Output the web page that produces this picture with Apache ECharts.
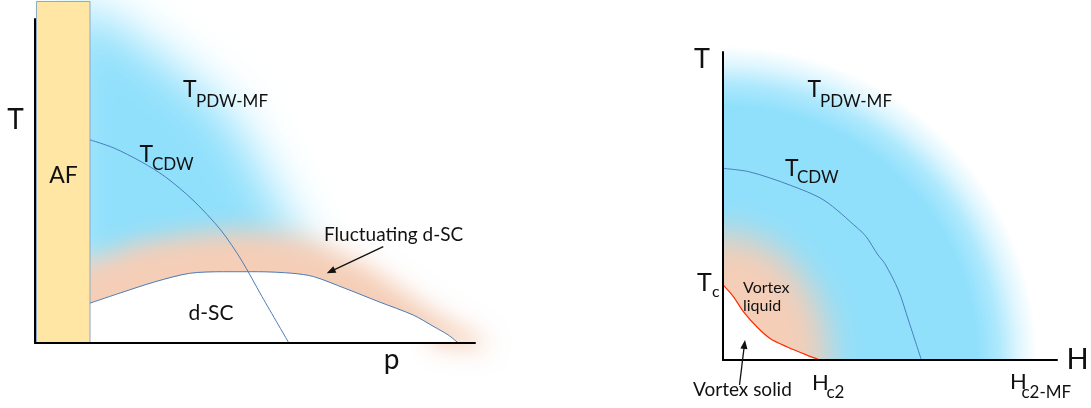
<!DOCTYPE html>
<html>
<head>
<meta charset="utf-8">
<script src="https://cdn.jsdelivr.net/npm/echarts@6/dist/echarts.min.js"></script>
<style>
  html, body { margin: 0; padding: 0; background: #fff; }
  #chart { width: 1091px; height: 408px; }
</style>
</head>
<body>
<div id="chart"></div>
<script>
// ---------- Left panel: T versus doping p (axes run 0..100) ----------
const afX = [0.34, 12.5];            // antiferromagnetic band, p range
const afT = [0, 105.4];              // and T range
const cdwDopingX = [12.5, 17.9, 24.2, 29.6, 35.9, 42.2, 46.9, 51.6, 57.7];
const cdwDopingT = [62.7, 60.2, 55.9, 51.3, 44.1, 34.9, 25.6, 14.3, 0];
const scDomeX = [12.5, 19.5, 27.3, 35.1, 42.9, 50.8, 58.6, 63.3, 70.4, 78.2, 86.0, 90.7, 93.9, 96.2];
const scDomeT = [12.3, 15.5, 18.9, 21.5, 22.0, 22.0, 21.5, 20.5, 16.9, 12.7, 8.6, 5.0, 2.5, 0];
// soft-edged PDW mean-field region (outline at half intensity)
const pdwDopingX = [5.7, 13.6, 21.6, 31.8, 40.9, 46.6, 50.7, 55.2, 58.4, 60.9, 58.0, 5.7];
const pdwDopingT = [104.3, 102.8, 95.7, 85.2, 75.0, 65.7, 54.9, 44.1, 34.9, 27.2, 17.9, 17.9];
// fluctuating d-SC band above the dome
const flucX = [5.7, 12.5, 23.2, 35.0, 46.8, 58.0, 64.1, 75.5, 83.0, 90.5, 96.6, 102.3, 101.6, 96.1, 87.5, 60.2, 5.7];
const flucT = [25.0, 25.0, 30.9, 33.6, 34.9, 33.6, 31.2, 23.8, 16.7, 9.6, 4.6, 0.9, -1.9, -1.2, 1.2, 2.5, 2.5];

// ---------- Right panel: T versus field H (axes run 0..100) ----------
const cdwFieldH = [0, 7.9, 20.0, 30.2, 40.3, 42.9, 46.4, 48.4, 52.5, 55.5, 59.4];
const cdwFieldT = [62.2, 61.1, 56.8, 51.9, 42.8, 40.0, 34.1, 31.4, 22.7, 13.0, 0];
const meltH = [0, 3.1, 6.1, 10.1, 14.1, 19.1, 25.1, 29.0];      // vortex solid / liquid line
const meltT = [24.4, 20.6, 15.7, 10.8, 7.0, 4.3, 1.6, 0];
const liquidH = [-8, 0, 8.2, 15.9, 22.4, 27.5, 30.6, 31.7, 31.7, -8];
const liquidT = [41.2, 41.2, 39.8, 35.7, 29.1, 20.6, 10.7, 0, -8, -8];
const hc2MF = 94;                                                // mean-field Hc2 (PDW edge)

const BLUE = '#90E0FC';
const PEACH = '#F5CEB7';
const LINE_BLUE = '#4A7EBB';

const chart = echarts.init(document.getElementById('chart'), null, { renderer: 'canvas' });

// Polygon drawn only through its own shadow: gives a gaussian-softened region.
function softRegion(xs, ys, color, blur) {
  return function (params, api) {
    const OFF = 4000;
    const pts = xs.map((x, i) => {
      const p = api.coord([x, ys[i]]);
      return [p[0] - OFF, p[1]];
    });
    return {
      type: 'polygon',
      shape: { points: pts },
      style: { fill: color, shadowColor: color, shadowBlur: blur, shadowOffsetX: OFF, shadowOffsetY: 0 }
    };
  };
}

function sharpPolygon(xs, ys, fill) {
  return function (params, api) {
    return {
      type: 'polygon',
      shape: { points: xs.map((x, i) => api.coord([x, ys[i]])) },
      style: { fill: fill }
    };
  };
}

function whiteRect(x0, x1, y0, y1, fadeRight) {
  return function (params, api) {
    const a = api.coord([x0, y1]);
    const b = api.coord([x1, y0]);
    const fill = fadeRight ? {
      type: 'linear', x: 0, y: 0, x2: 1, y2: 0,
      colorStops: [{ offset: 0, color: '#fff' }, { offset: 0.93, color: '#fff' }, { offset: 1, color: 'rgba(255,255,255,0)' }]
    } : '#fff';
    return {
      type: 'rect',
      shape: { x: a[0], y: a[1], width: b[0] - a[0], height: b[1] - a[1] },
      style: { fill: fill }
    };
  };
}

function custom(grid, z, renderItem) {
  return {
    type: 'custom', xAxisIndex: grid, yAxisIndex: grid, z: z, silent: true,
    clip: false, data: [[0, 0]], renderItem: renderItem
  };
}

function curve(grid, xs, ys, color, width, smooth) {
  return {
    type: 'line', xAxisIndex: grid, yAxisIndex: grid, z: 6, silent: true,
    showSymbol: false, symbol: 'none', smooth: smooth, clip: false,
    lineStyle: { color: color, width: width },
    data: xs.map((x, i) => [x, ys[i]])
  };
}

// ----- annotation layer (text + arrows) -----
function txt(x, y, text, size, align) {
  const al = align || 'left';
  return {
    type: 'text', x: x, y: y, z: 30, silent: true,
    style: {
      text: text, font: size + 'px Lato', fill: '#111',
      align: al, verticalAlign: 'middle', textAlign: al, textVerticalAlign: 'middle'
    }
  };
}
function arrow(x1, y1, x2, y2) {
  const ang = Math.atan2(y2 - y1, x2 - x1);
  const L = 9, W = 3.6;
  const c = Math.cos(ang), s = Math.sin(ang);
  const bx = x2 - L * c, by = y2 - L * s;
  return [
    { type: 'line', z: 30, silent: true, shape: { x1: x1, y1: y1, x2: bx + 1 * c, y2: by + 1 * s },
      style: { stroke: '#111', lineWidth: 1.3 } },
    { type: 'polygon', z: 30, silent: true,
      shape: { points: [[x2, y2], [bx + W * s, by - W * c], [bx - W * s, by + W * c]] },
      style: { fill: '#111' } }
  ];
}

const notes = [
  // left panel
  txt(15.5, 120, 'T', 28, 'center'),
  txt(63.5, 175.5, 'AF', 23, 'center'),
  txt(183, 89.5, 'T', 23), txt(196, 101.5, 'PDW-MF', 17),
  txt(139.5, 155, 'T', 23), txt(152, 164.5, 'CDW', 17),
  txt(211, 313, 'd-SC', 21, 'center'),
  txt(324, 235, 'Fluctuating d-SC', 19),
  txt(391.5, 360, 'p', 28, 'center'),
  ...arrow(383.3, 246.7, 326.7, 273.3),
  // right panel
  txt(702, 59, 'T', 27, 'center'),
  txt(1077.5, 359.5, 'H', 29, 'center'),
  txt(807.5, 90, 'T', 23), txt(820, 101.5, 'PDW-MF', 17),
  txt(785, 168.5, 'T', 23), txt(797, 178, 'CDW', 17),
  txt(697, 282.5, 'T', 25), txt(712, 292, 'c', 16),
  txt(743, 287.5, 'Vortex', 16), txt(743, 305.8, 'liquid', 16),
  txt(693, 389.6, 'Vortex solid', 19),
  txt(812, 382.5, 'H', 22), txt(826.5, 392.5, 'c2', 17),
  txt(1010, 381.5, 'H', 22), txt(1021.5, 392.5, 'c2-MF', 17),
  ...arrow(739.5, 385, 745, 340)
];

function valueAxis(grid) {
  return {
    gridIndex: grid, type: 'value', min: 0, max: 100, z: 8,
    axisLine: { show: true, onZero: true, lineStyle: { color: '#000', width: 2 } },
    axisTick: { show: false }, axisLabel: { show: false }, splitLine: { show: false }
  };
}

chart.setOption({
  animation: false,
  backgroundColor: '#fff',
  grid: [
    { left: 35, top: 19, width: 440, height: 324 },
    { left: 723, top: 52, width: 334, height: 308 }
  ],
  xAxis: [valueAxis(0), valueAxis(1)],
  yAxis: [valueAxis(0), valueAxis(1)],
  graphic: { elements: notes },
  series: [
    // left panel regions
    custom(0, 1, softRegion(pdwDopingX, pdwDopingT, BLUE, 50)),
    custom(0, 2, softRegion(flucX, flucT, PEACH, 24)),
    custom(0, 3, sharpPolygon(scDomeX.concat([scDomeX[0]]), scDomeT.concat([0]), '#fff')),
    custom(0, 4, whiteRect(-30, -0.25, -20, 130, false)),
    custom(0, 4, whiteRect(-0.25, 92, -12, -0.3, true)),
    custom(0, 5, function (params, api) {
      const a = api.coord([afX[0], afT[1]]);
      const b = api.coord([afX[1], afT[0]]);
      return {
        type: 'rect',
        shape: { x: a[0], y: a[1], width: b[0] - a[0], height: b[1] - a[1] },
        style: { fill: '#FFE6A5', stroke: '#8DAAC6', lineWidth: 1 }
      };
    }),
    curve(0, cdwDopingX, cdwDopingT, LINE_BLUE, 1, 0.3),
    curve(0, scDomeX, scDomeT, LINE_BLUE, 1, 0.3),

    // right panel regions
    custom(1, 1, function (params, api) {
      const o = api.coord([0, 0]);
      const e = api.coord([hc2MF, 0]);
      const t = api.coord([110, 118]);
      const r = e[0] - o[0];
      return {
        type: 'rect',
        shape: { x: o[0], y: t[1], width: t[0] - o[0], height: o[1] - t[1] },
        style: {
          fill: {
            type: 'radial', x: o[0], y: o[1], r: r, global: true,
            colorStops: [
              { offset: 0, color: BLUE },
              { offset: 0.81, color: BLUE },
              { offset: 0.88, color: 'rgba(144,224,252,0.72)' },
              { offset: 0.94, color: 'rgba(144,224,252,0.3)' },
              { offset: 1, color: 'rgba(144,224,252,0)' }
            ]
          }
        }
      };
    }),
    custom(1, 2, softRegion(liquidH, liquidT, PEACH, 34)),
    custom(1, 3, sharpPolygon(meltH.concat([0]), meltT.concat([0]), '#fff')),
    custom(1, 4, whiteRect(-55, -0.3, -16, 120, false)),
    custom(1, 4, whiteRect(-0.3, 110, -16, -0.3, false)),
    curve(1, cdwFieldH, cdwFieldT, LINE_BLUE, 1, 0.3),
    curve(1, meltH, meltT, '#FF2A00', 1.2, 0.3)
  ]
});
</script>
</body>
</html>
